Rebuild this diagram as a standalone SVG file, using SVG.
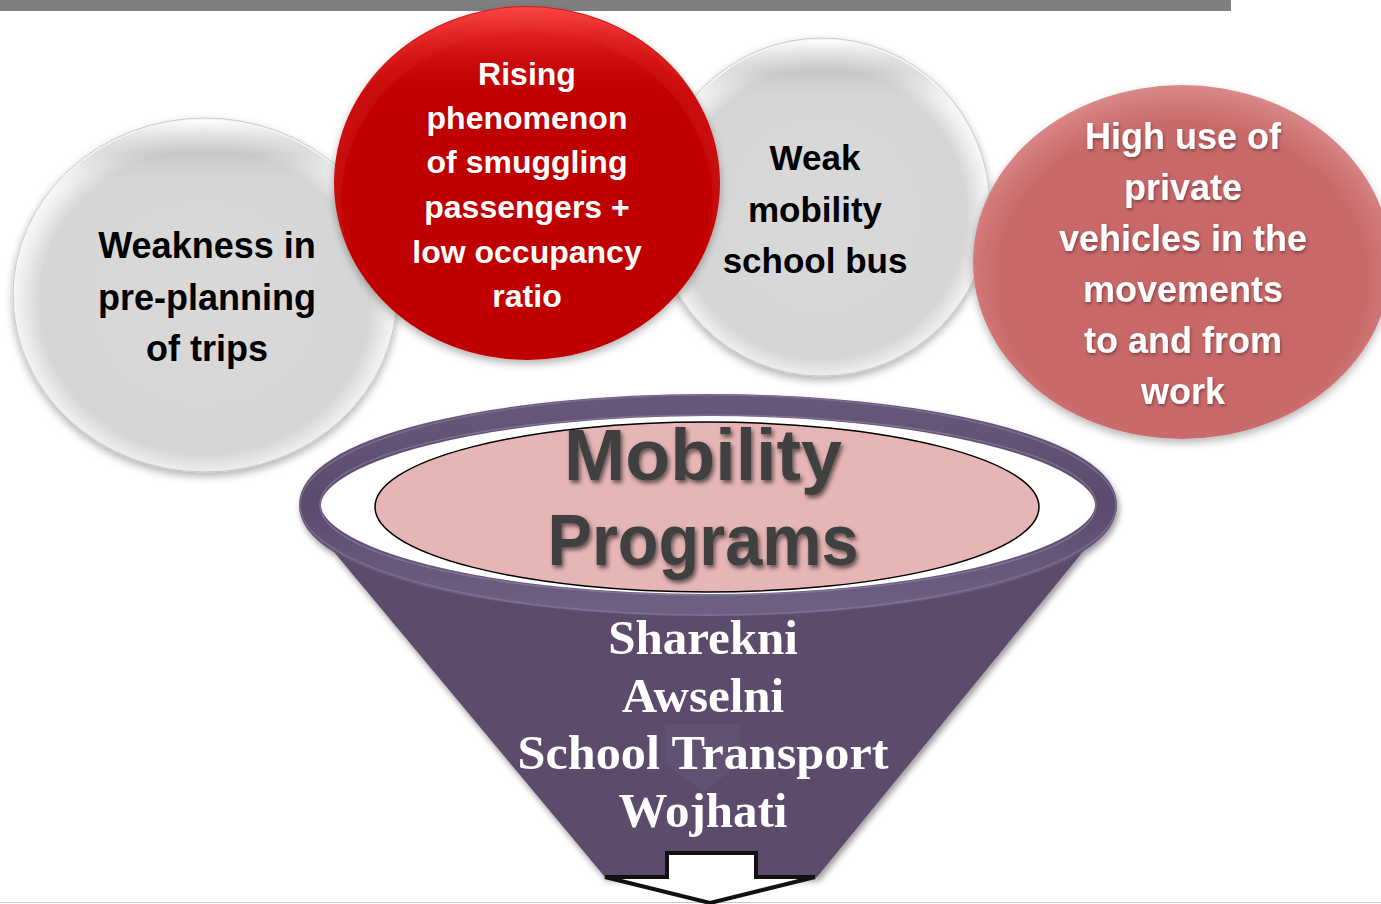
<svg xmlns="http://www.w3.org/2000/svg" width="1381" height="904" viewBox="0 0 1381 904">
<defs>
<radialGradient id="gGray" cx="50%" cy="52%" r="50%">
<stop offset="0" stop-color="#d9d9d9"/>
<stop offset="0.86" stop-color="#d6d6d6"/>
<stop offset="0.95" stop-color="#ececec"/>
<stop offset="1" stop-color="#f6f6f6"/>
</radialGradient>
<linearGradient id="gGrayTop" x1="0" y1="0" x2="0" y2="1">
<stop offset="0" stop-color="#ffffff" stop-opacity="0.9"/>
<stop offset="0.1" stop-color="#b0b0b0" stop-opacity="0.35"/>
<stop offset="0.2" stop-color="#d8d8d8" stop-opacity="0"/>
<stop offset="1" stop-color="#d8d8d8" stop-opacity="0"/>
</linearGradient>
<radialGradient id="gRed" cx="50%" cy="55%" r="55%">
<stop offset="0" stop-color="#c00000"/>
<stop offset="0.85" stop-color="#c00303"/>
<stop offset="1" stop-color="#d81818"/>
</radialGradient>
<linearGradient id="gRedTop" x1="0" y1="0" x2="0" y2="1">
<stop offset="0" stop-color="#ff4a4a" stop-opacity="0.9"/>
<stop offset="0.15" stop-color="#e02020" stop-opacity="0.4"/>
<stop offset="0.3" stop-color="#c00000" stop-opacity="0"/>
<stop offset="1" stop-color="#c00000" stop-opacity="0"/>
</linearGradient>
<radialGradient id="gPink" cx="50%" cy="55%" r="55%">
<stop offset="0" stop-color="#c75f5f"/>
<stop offset="0.8" stop-color="#c86262"/>
<stop offset="1" stop-color="#d88282"/>
</radialGradient>
<linearGradient id="gRing" x1="0" y1="0" x2="0" y2="1">
<stop offset="0" stop-color="#66577a"/>
<stop offset="0.5" stop-color="#5b4b6d"/>
<stop offset="1" stop-color="#6e5f84"/>
</linearGradient>
<filter id="shCircle" x="-10%" y="-10%" width="120%" height="125%">
<feDropShadow dx="0" dy="4" stdDeviation="4" flood-color="#000" flood-opacity="0.3"/>
</filter>
<filter id="shText" x="-10%" y="-10%" width="120%" height="130%">
<feDropShadow dx="2" dy="3" stdDeviation="2" flood-color="#000" flood-opacity="0.55"/>
</filter>
<filter id="shWhite" x="-10%" y="-10%" width="120%" height="130%">
<feDropShadow dx="1" dy="2" stdDeviation="1.5" flood-color="#000" flood-opacity="0.35"/>
</filter>
<filter id="shFunnel" x="-10%" y="-10%" width="120%" height="120%">
<feDropShadow dx="2" dy="4" stdDeviation="3" flood-color="#000" flood-opacity="0.4"/>
</filter>
</defs>
<style>
.cs{font-family:"Liberation Sans",Arial,sans-serif;font-weight:bold;text-anchor:middle}
.dark{fill:#000}
.white{fill:#fff}
.fun{font-family:"Liberation Serif","Times New Roman",serif;font-weight:bold;font-size:49px;fill:#fff;text-anchor:middle}
.mob{font-family:"Liberation Sans",Arial,sans-serif;font-weight:bold;font-size:72px;fill:#404040;text-anchor:middle}
</style>

<rect x="0" y="0" width="1231" height="11" fill="#7f7f7f"/>
<line x1="0" y1="902.5" x2="1381" y2="902.5" stroke="#c8c8c8" stroke-width="1"/>

<g id="node-weakness-preplanning">
<ellipse cx="205" cy="295" rx="192" ry="177" fill="url(#gGray)" stroke="#c8c8c8" stroke-width="1" filter="url(#shCircle)"/>
<ellipse cx="205" cy="295" rx="190" ry="175" fill="url(#gGrayTop)"/>
<text class="cs dark" font-size="36"><tspan x="207" y="258">Weakness in</tspan><tspan x="207" y="310">pre-planning</tspan><tspan x="207" y="361">of trips</tspan></text>
</g>

<g id="node-weak-mobility">
<ellipse cx="822" cy="207" rx="168" ry="169" fill="url(#gGray)" stroke="#c8c8c8" stroke-width="1" filter="url(#shCircle)"/>
<ellipse cx="822" cy="207" rx="166" ry="167" fill="url(#gGrayTop)"/>
<text class="cs dark" font-size="35"><tspan x="815" y="170">Weak</tspan><tspan x="815" y="222">mobility</tspan><tspan x="815" y="273">school bus</tspan></text>
</g>

<g id="node-smuggling">
<ellipse cx="527" cy="183" rx="193" ry="177" fill="url(#gRed)" filter="url(#shCircle)"/>
<ellipse cx="527" cy="183" rx="192" ry="176" fill="url(#gRedTop)"/>
<text class="cs white" font-size="32"><tspan x="527" y="85">Rising</tspan><tspan x="527" y="129">phenomenon</tspan><tspan x="527" y="173">of smuggling</tspan><tspan x="527" y="218">passengers +</tspan><tspan x="527" y="263">low occupancy</tspan><tspan x="527" y="307">ratio</tspan></text>
</g>

<g id="node-private-vehicles">
<ellipse cx="1182" cy="262" rx="209" ry="177" fill="url(#gPink)" fill-opacity="0.93" filter="url(#shCircle)"/>
<text class="cs white" font-size="36" filter="url(#shWhite)"><tspan x="1183" y="149">High use of</tspan><tspan x="1183" y="200">private</tspan><tspan x="1183" y="251">vehicles in the</tspan><tspan x="1183" y="302">movements</tspan><tspan x="1183" y="353">to and from</tspan><tspan x="1183" y="404">work</tspan></text>
</g>

<g id="node-funnel">
<g filter="url(#shFunnel)">
<path d="M 299 510 L 605 877 L 817 877 L 1117 510 Z" fill="#5b4b6b"/>
<ellipse cx="708" cy="505" rx="398" ry="100" fill="#ffffff" stroke="url(#gRing)" stroke-width="22"/>
</g>
<ellipse cx="708" cy="505" rx="408" ry="110" fill="none" stroke="#8a7ca0" stroke-width="1.5" stroke-opacity="0.6"/>
<ellipse cx="708" cy="505" rx="388" ry="90" fill="none" stroke="#9a8db0" stroke-width="1.5" stroke-opacity="0.5"/>
<path d="M 665 724 L 740 724 L 740 764 L 703 792 L 665 764 Z" fill="#685a80" fill-opacity="0.45"/>
<ellipse cx="707" cy="507" rx="332" ry="85" fill="#e6b5b5" stroke="#000" stroke-width="1.5"/>
<text class="mob" x="703" y="480" filter="url(#shText)" textLength="278" lengthAdjust="spacingAndGlyphs">Mobility</text>
<text class="mob" x="703" y="565" filter="url(#shText)" textLength="311" lengthAdjust="spacingAndGlyphs">Programs</text>
<text class="fun" x="703" y="654">Sharekni</text>
<text class="fun" x="703" y="712">Awselni</text>
<text class="fun" x="703" y="769" textLength="371" lengthAdjust="spacingAndGlyphs">School Transport</text>
<text class="fun" x="703" y="827">Wojhati</text>
</g>

<g id="connectors">
<path d="M 667 853 L 756 853 L 756 877 L 815 877 L 710 903 L 605 877 L 667 877 Z" fill="#ffffff" stroke="#111" stroke-width="4" stroke-linejoin="miter"/>
</g>
</svg>
